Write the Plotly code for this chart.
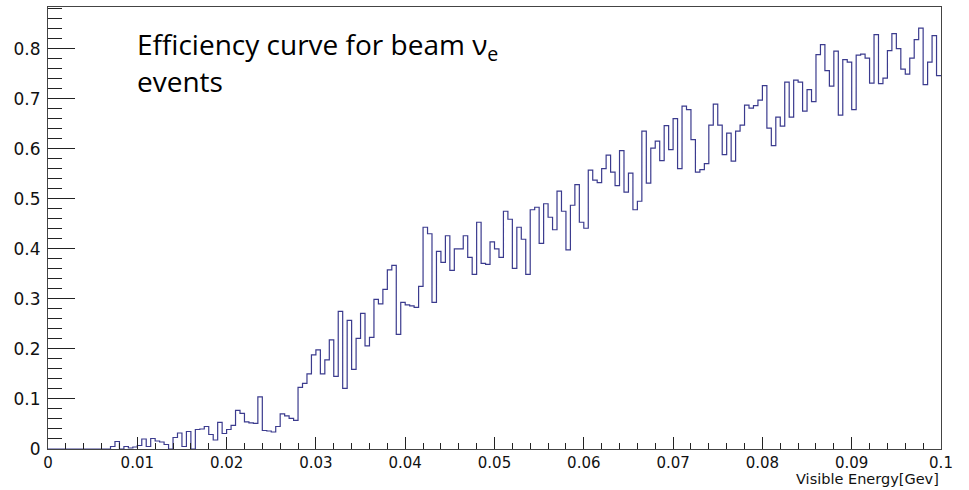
import numpy as np
import plotly.graph_objects as go

# ---- data ----
x_min = 0.0
x_max = 0.1
n_bins = 200
efficiency = [
    0, 0, 0, 0, 0, 0, 0, 0, 0, 0, 0, 0, 0, 0,
    0.005, 0.015, 0.0, 0.005, 0.002, 0.004, 0.007, 0.020, 0.005, 0.021,
    0.016, 0.014, 0.009, 0.0, 0.023, 0.032, 0.005, 0.035, 0.0, 0.039,
    0.040, 0.045, 0.029, 0.018, 0.053, 0.031, 0.039, 0.047, 0.077, 0.071,
    0.054, 0.052, 0.051, 0.104, 0.037, 0.036, 0.034, 0.045, 0.070, 0.066,
    0.061, 0.057, 0.123, 0.131, 0.150, 0.188, 0.198, 0.150, 0.178, 0.218,
    0.145, 0.275, 0.121, 0.257, 0.159, 0.221, 0.271, 0.206, 0.223, 0.299,
    0.290, 0.319, 0.358, 0.367, 0.229, 0.293, 0.288, 0.286, 0.283, 0.325,
    0.443, 0.430, 0.293, 0.395, 0.373, 0.426, 0.357, 0.400, 0.400, 0.426,
    0.383, 0.349, 0.453, 0.371, 0.369, 0.414, 0.400, 0.383, 0.475, 0.459,
    0.361, 0.443, 0.419, 0.349, 0.478, 0.483, 0.411, 0.490, 0.463, 0.438,
    0.515, 0.475, 0.398, 0.487, 0.528, 0.453, 0.441, 0.557, 0.537, 0.532,
    0.560, 0.587, 0.553, 0.526, 0.596, 0.513, 0.551, 0.478, 0.495, 0.635,
    0.531, 0.601, 0.615, 0.576, 0.646, 0.598, 0.660, 0.560, 0.685, 0.678,
    0.618, 0.553, 0.558, 0.570, 0.647, 0.689, 0.647, 0.588, 0.631, 0.575,
    0.635, 0.647, 0.687, 0.681, 0.686, 0.697, 0.726, 0.641, 0.606, 0.663,
    0.645, 0.733, 0.663, 0.737, 0.733, 0.675, 0.718, 0.694, 0.788, 0.808,
    0.756, 0.725, 0.795, 0.667, 0.778, 0.773, 0.678, 0.787, 0.789, 0.781,
    0.731, 0.828, 0.730, 0.741, 0.796, 0.830, 0.800, 0.759, 0.749, 0.781,
    0.818, 0.841, 0.728, 0.773, 0.826, 0.746,
]
x_tick_vals = [0.0, 0.01, 0.02, 0.03, 0.04, 0.05, 0.06, 0.07, 0.08, 0.09, 0.1]
x_tick_text = ["0", "0.01", "0.02", "0.03", "0.04", "0.05", "0.06", "0.07", "0.08", "0.09", "0.1"]
y_tick_vals = [0.0, 0.1, 0.2, 0.3, 0.4, 0.5, 0.6, 0.7, 0.8]
y_tick_text = ["0", "0.1", "0.2", "0.3", "0.4", "0.5", "0.6", "0.7", "0.8"]
x_title = "Visible Energy[Gev]"
note_line1 = "Efficiency curve for beam ν<sub>e</sub>"
note_line2 = "events"

# ---- build step outline from bins ----
edges = np.linspace(x_min, x_max, n_bins + 1)
vals = np.array(efficiency, dtype=float)
y_step = np.append(vals, vals[-1])
y_max = vals.max() * 1.05

fig = go.Figure()
fig.add_trace(go.Scatter(
    x=edges, y=y_step, mode="lines", line_shape="hv",
    line=dict(color="#3b3b8e", width=1.2), hoverinfo="skip", showlegend=False,
))

x_tick_font = dict(family="DejaVu Sans", size=15, color="#111")
y_tick_font = dict(family="DejaVu Sans", size=17, color="#111")
fig.update_layout(
    width=969, height=490,
    margin=dict(l=48, r=28, t=7, b=41),
    paper_bgcolor="white", plot_bgcolor="white",
    showlegend=False,
    xaxis=dict(
        range=[x_min, x_max], tickvals=x_tick_vals, ticktext=x_tick_text,
        ticks="inside", ticklen=12, tickwidth=1, tickcolor="#222",
        showline=True, linecolor="#444", linewidth=1, mirror=True,
        showgrid=False, zeroline=False, tickfont=x_tick_font,
        ticklabelstandoff=0,
        minor=dict(dtick=0.002, ticks="inside", ticklen=6, tickcolor="#222", showgrid=False),
    ),
    yaxis=dict(
        range=[0, y_max], tickvals=y_tick_vals, ticktext=y_tick_text,
        ticks="inside", ticklen=27, tickwidth=1, tickcolor="#222",
        showline=True, linecolor="#444", linewidth=1, mirror=True,
        showgrid=False, zeroline=False, tickfont=y_tick_font,
        ticklabelstandoff=3,
        minor=dict(dtick=0.02, ticks="inside", ticklen=14, tickcolor="#222", showgrid=False),
    ),
    annotations=[
        dict(text=x_title, xref="paper", yref="paper", x=1.0, y=-0.0895,
             xanchor="right", yanchor="bottom", showarrow=False,
             font=dict(family="DejaVu Sans", size=14.5, color="#111")),
        dict(text=note_line1, xref="paper", yref="paper", x=0.0975, y=0.912,
             xanchor="left", yanchor="middle", showarrow=False,
             font=dict(family="Open Sans", size=28, color="#000")),
        dict(text=note_line2, xref="paper", yref="paper", x=0.0975, y=0.832,
             xanchor="left", yanchor="middle", showarrow=False,
             font=dict(family="Open Sans", size=28, color="#000")),
    ],
)

fig.write_html("out.html")
